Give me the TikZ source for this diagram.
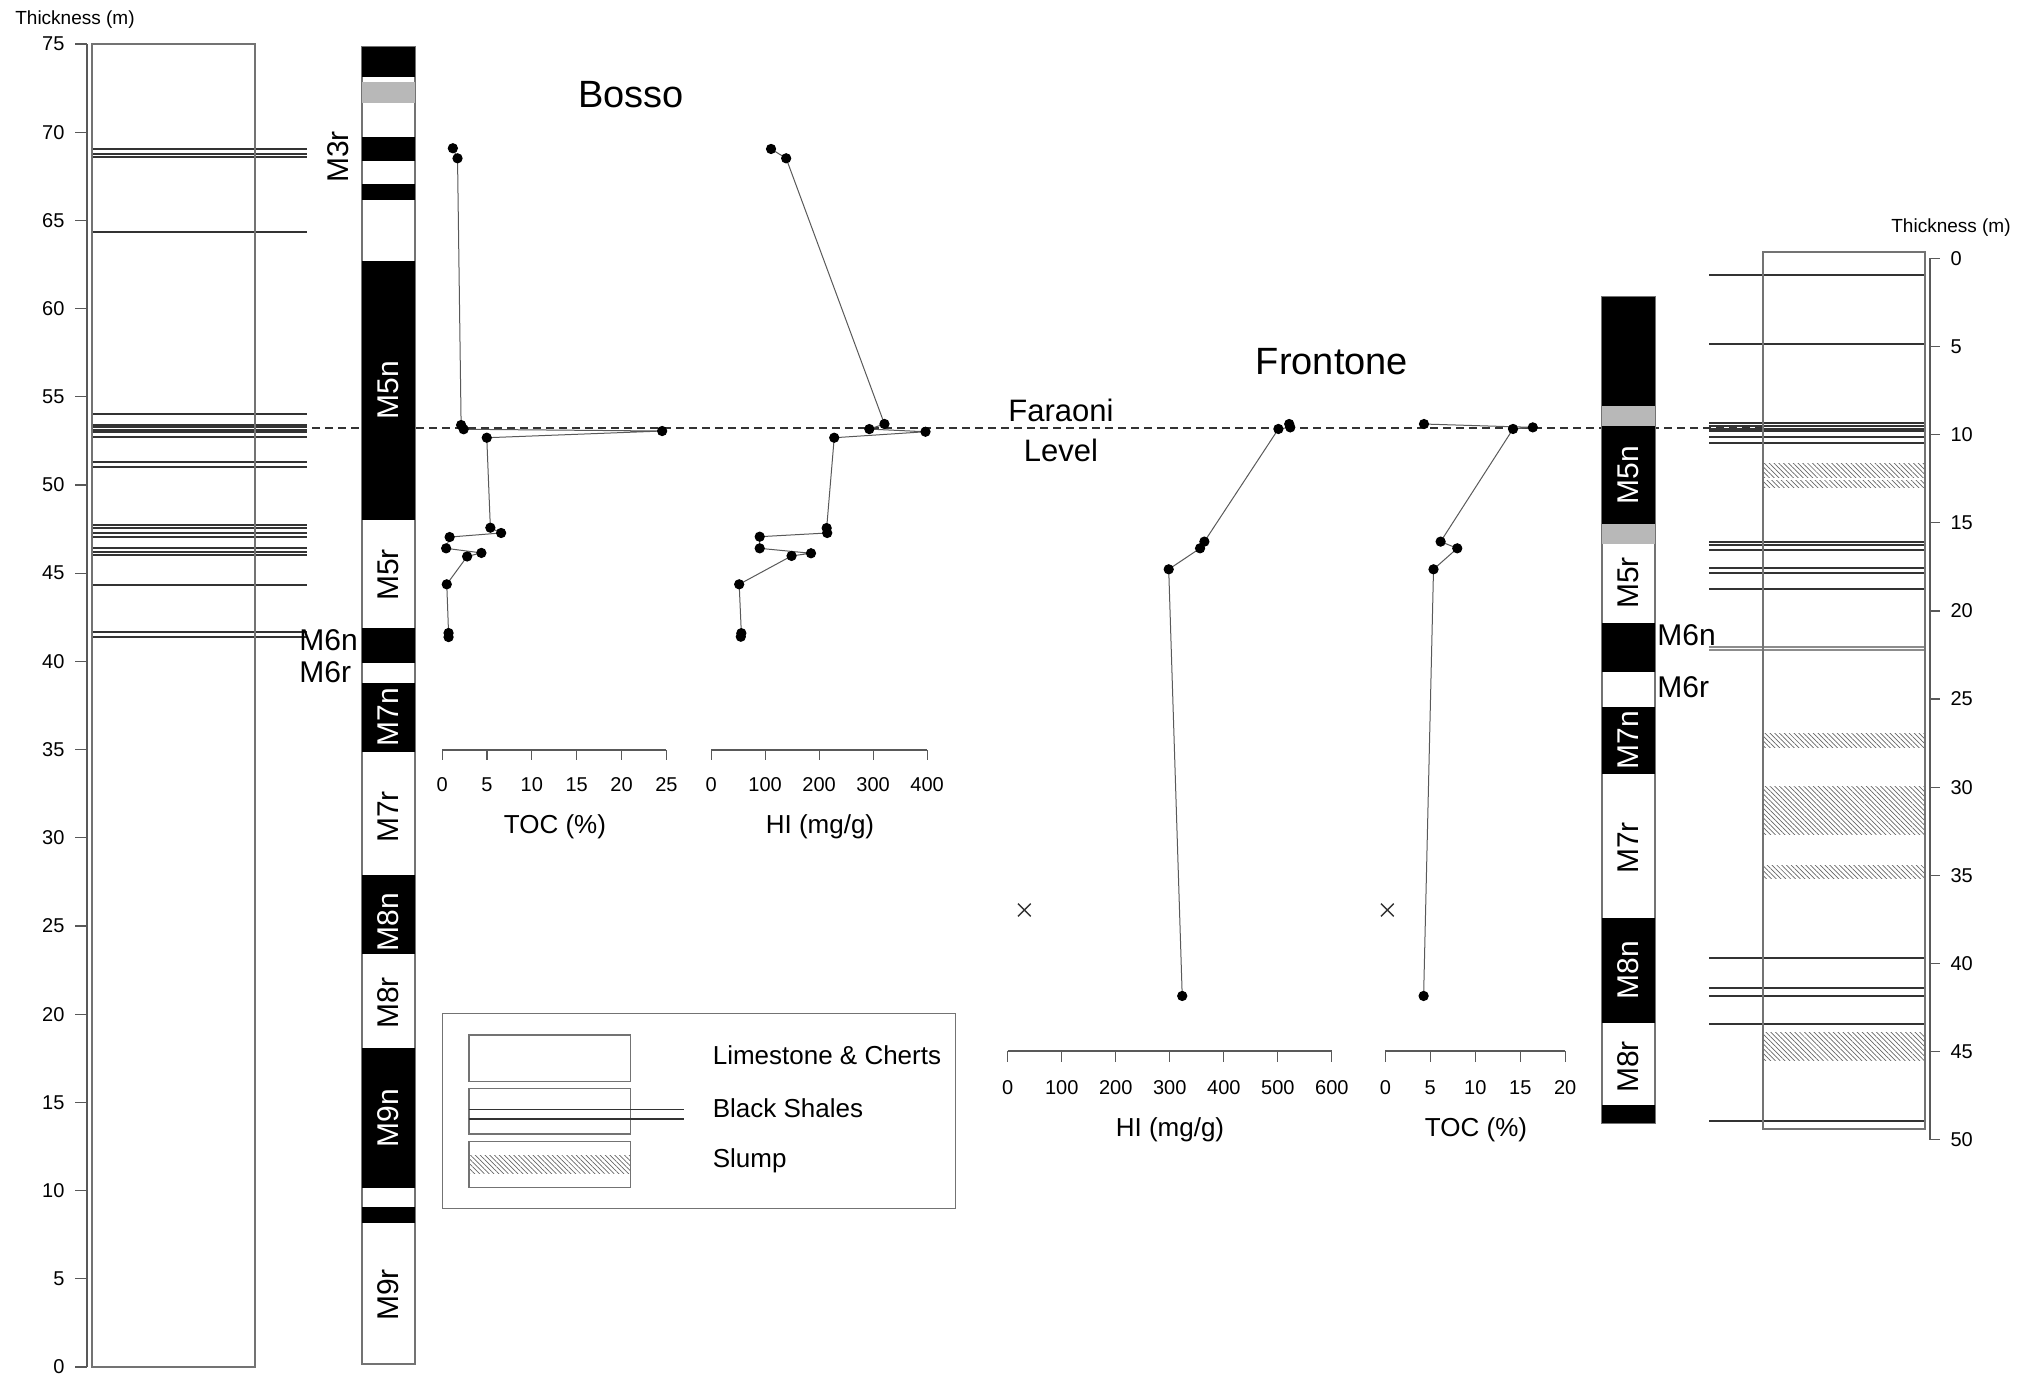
\documentclass[tikz,border=0pt]{standalone}
\usepackage{fontspec}
\setmainfont{Liberation Sans}
\usetikzlibrary{patterns.meta}

\tikzset{
  ticklab/.style={font=\fontsize{10}{12}\selectfont, inner sep=0pt},
  axtitle/.style={font=\fontsize{13}{15}\selectfont, inner sep=0pt},
  thick-lab/.style={font=\fontsize{9.5}{11}\selectfont, inner sep=0pt},
  sitetitle/.style={font=\fontsize{19}{22}\selectfont, inner sep=0pt},
  lgdtext/.style={font=\fontsize{13}{15}\selectfont, inner sep=0pt, anchor=west},
  chron/.style={font=\fontsize{15}{18}\selectfont, inner sep=0pt},
  chronw/.style={chron, text=white},
  axline/.style={draw=black!65, line width=0.6pt},
  colbox/.style={draw=black!55, line width=0.6pt},
  shale/.style={draw=black!80, line width=0.6pt},
  slump/.style={pattern={Lines[angle=-45,distance=1.7pt,line width=0.35pt]}, pattern color=black!60},
  dataline/.style={draw=black!65, line width=0.5pt},
  datamark/.style={mark=*, mark size=2.3pt, mark options={draw=black, fill=black, solid}},
  faraoni/.style={draw=black!80, line width=0.6pt, dash pattern=on 4pt off 2.5pt},
}

\begin{document}
\begin{tikzpicture}[x=0.5pt, y=-0.5pt]
\useasboundingbox (0,0) rectangle (2020,1377);

% Faraoni level
\draw[faraoni] (312,428) -- (1763,428);
\node[font=\fontsize{15.5}{18}\selectfont] (faraoni) at (1061,410) {Faraoni};
\node[font=\fontsize{15.5}{18}\selectfont] (level) at (1061,450) {Level};

% Bosso axis
\node[thick-lab] (thkB) at (75,20) {Thickness (m)};
\draw[axline] (87,44) -- (87,1367);
\foreach \v in {0,5,...,75}
  \draw[axline] (75,{1367-17.64*\v}) -- (87,{1367-17.64*\v})
    node[ticklab, anchor=east] at (65,{1367-17.64*\v}) {\v};

% Bosso lithology
\foreach \y in {149,154,157,232,414,425,427,430,432,437,462,467,525,528,533,537,548,552,555,585,632,637}
  \draw[shale] (92,\y) -- (307,\y);
\draw[colbox] (92,44) rectangle (255,1367);

% Bosso magnetostratigraphy
\draw[colbox, fill=white] (362,47) rectangle (415,1364);
\foreach \a/\b in {47/77,137/161,184/200,261/520,628/663,683/752,875/954,1048/1188,1207/1223}
  \fill[black] (362,\a) rectangle (415,\b);
\fill[black!28] (362,82) rectangle (415,103);
\node[chron, rotate=90] (m3rB) at (338,157) {M3r};
\node[chronw, rotate=90] (m5nB) at (388.5,390) {M5n};
\node[chron, rotate=90] (m5rB) at (388.5,575) {M5r};
\node[chron, anchor=west] (m6nB) at (299,640) {M6n};
\node[chron, anchor=west] (m6rB) at (299,672) {M6r};
\node[chronw, rotate=90] (m7nB) at (388.5,717) {M7n};
\node[chron, rotate=90] (m7rB) at (388.5,817) {M7r};
\node[chronw, rotate=90] (m8nB) at (388.5,922) {M8n};
\node[chron, rotate=90] (m8rB) at (388.5,1003) {M8r};
\node[chronw, rotate=90] (m9nB) at (388.5,1118) {M9n};
\node[chron, rotate=90] (m9rB) at (388.5,1295) {M9r};

% Bosso data
\node[sitetitle] (bosso) at (631,95) {Bosso};
\begin{scope}[shift={(442.1,1367)}, x=4.485pt, y=8.82pt]
  \draw[dataline] plot[datamark] coordinates {(1.20,69.09) (1.72,68.52) (2.12,53.40) (2.40,53.16) (24.53,53.06) (4.98,52.68) (5.38,47.58) (6.58,47.28) (0.84,47.05) (0.45,46.41) (4.38,46.15) (2.79,45.95) (0.52,44.37) (0.72,41.61) (0.72,41.38)};
\end{scope}
\begin{scope}[shift={(711.1,1367)}, x=0.27pt, y=8.82pt]
  \draw[dataline] plot[datamark] coordinates {(111,69.05) (139,68.52) (321,53.46) (293,53.17) (397,53.02) (228,52.68) (214,47.56) (215,47.28) (90,47.07) (90,46.41) (185,46.13) (149,45.98) (52,44.37) (56,41.6) (55,41.4)};
\end{scope}
\draw[axline] (442.1,750) -- (666.4,750);
\foreach \i in {0,...,5}
  \draw[axline] ({442.1+44.86*\i},750) -- ({442.1+44.86*\i},760)
    node[ticklab] at ({442.1+44.86*\i},785) {\pgfmathparse{int(5*\i)}\pgfmathresult};
\node[axtitle] (tocB) at (555,827) {TOC (\%)};
\draw[axline] (711.1,750) -- (927.1,750);
\foreach \i in {0,...,4}
  \draw[axline] ({711.1+54*\i},750) -- ({711.1+54*\i},760)
    node[ticklab] at ({711.1+54*\i},785) {\pgfmathparse{int(100*\i)}\pgfmathresult};
\node[axtitle] (hiB) at (820,827) {HI (mg/g)};

% legend
\draw[colbox] (442.1,1013.3) rectangle (955.1,1208.3);
\draw[colbox] (468.9,1035) rectangle (630.8,1081.7);
\draw[colbox] (468.9,1088.3) rectangle (630.8,1134);
\draw[shale] (468.9,1109.3) -- (684.1,1109.3) (468.9,1119) -- (684.1,1119);
\fill[slump] (468.9,1155) rectangle (630.8,1173.3);
\draw[colbox] (468.9,1141.7) rectangle (630.8,1187.3);
\node[lgdtext] (lgd1) at (712.4,1055) {Limestone \& Cherts};
\node[lgdtext] (lgd2) at (712.4,1108) {Black Shales};
\node[lgdtext] (lgd3) at (712.4,1161) {Slump};

% Frontone data
\node[sitetitle] (frontone) at (1332,362) {Frontone};
\begin{scope}[shift={(1007.7,258.3)}, x=0.27015pt, y=-8.815pt]
  \draw[dataline] plot[datamark] coordinates {(521,9.40) (523,9.59) (501,9.68) (364,16.07) (356,16.45) (298,17.64) (323,41.84)};
\end{scope}
\begin{scope}[shift={(1385.3,258.3)}, x=4.4975pt, y=-8.815pt]
  \draw[dataline] plot[datamark] coordinates {(4.3,9.40) (16.4,9.59) (14.2,9.68) (6.15,16.07) (8.0,16.45) (5.36,17.64) (4.26,41.84)};
\end{scope}
\path[draw=black!80] plot[only marks, mark=x, mark size=4.5pt, mark options={line width=0.7pt}] coordinates {(1024.3,910) (1387.3,910)};
\draw[axline] (1007.7,1051) -- (1331.9,1051);
\foreach \i in {0,...,6}
  \draw[axline] ({1007.7+54.03*\i},1051) -- ({1007.7+54.03*\i},1062)
    node[ticklab] at ({1007.7+54.03*\i},1088) {\pgfmathparse{int(100*\i)}\pgfmathresult};
\node[axtitle] (hiF) at (1170,1130) {HI (mg/g)};
\draw[axline] (1385.3,1051) -- (1565.2,1051);
\foreach \i in {0,...,4}
  \draw[axline] ({1385.3+44.98*\i},1051) -- ({1385.3+44.98*\i},1062)
    node[ticklab] at ({1385.3+44.98*\i},1088) {\pgfmathparse{int(5*\i)}\pgfmathresult};
\node[axtitle] (tocF) at (1476,1130) {TOC (\%)};

% Frontone magnetostratigraphy
\draw[colbox, fill=white] (1602,297) rectangle (1655,1123);
\foreach \a/\b in {297/406,426/524,623/672,707/774,918/1023,1105/1123}
  \fill[black] (1602,\a) rectangle (1655,\b);
\foreach \a/\b in {406/426,524/544}
  \fill[black!28] (1602,\a) rectangle (1655,\b);
\node[chronw, rotate=90] (m5nF) at (1628.5,475) {M5n};
\node[chron, rotate=90] (m5rF) at (1628.5,583) {M5r};
\node[chron, anchor=west] (m6nF) at (1657,635) {M6n};
\node[chron, anchor=west] (m6rF) at (1657,687) {M6r};
\node[chronw, rotate=90] (m7nF) at (1628.5,740) {M7n};
\node[chron, rotate=90] (m7rF) at (1628.5,848) {M7r};
\node[chronw, rotate=90] (m8nF) at (1628.5,970) {M8n};
\node[chron, rotate=90] (m8rF) at (1628.5,1067) {M8r};

% Frontone lithology
\foreach \a/\b in {463/477,480/487,733/747,786/834,865/878,1032/1060}
  \fill[slump] (1763,\a) rectangle (1925,\b);
\foreach \y in {275,344,423,426,429,431,437,443,542,545,550,568,573,589,958,988,996,1024,1121}
  \draw[shale] (1709,\y) -- (1925,\y);
\foreach \y in {647,650}
  \draw[draw=black!45, line width=0.8pt] (1709,\y) -- (1925,\y);
\draw[colbox] (1763,252) rectangle (1925,1129);

% Frontone axis
\node[thick-lab] (thkF) at (1951,228) {Thickness (m)};
\draw[axline] (1930,258.3) -- (1930,1140);
\foreach \v in {0,5,...,50}
  \draw[axline] (1930,{258.3+17.63*\v}) -- (1940,{258.3+17.63*\v})
    node[ticklab, anchor=west] at (1950,{258.3+17.63*\v}) {\v};
\end{tikzpicture}
\end{document}
